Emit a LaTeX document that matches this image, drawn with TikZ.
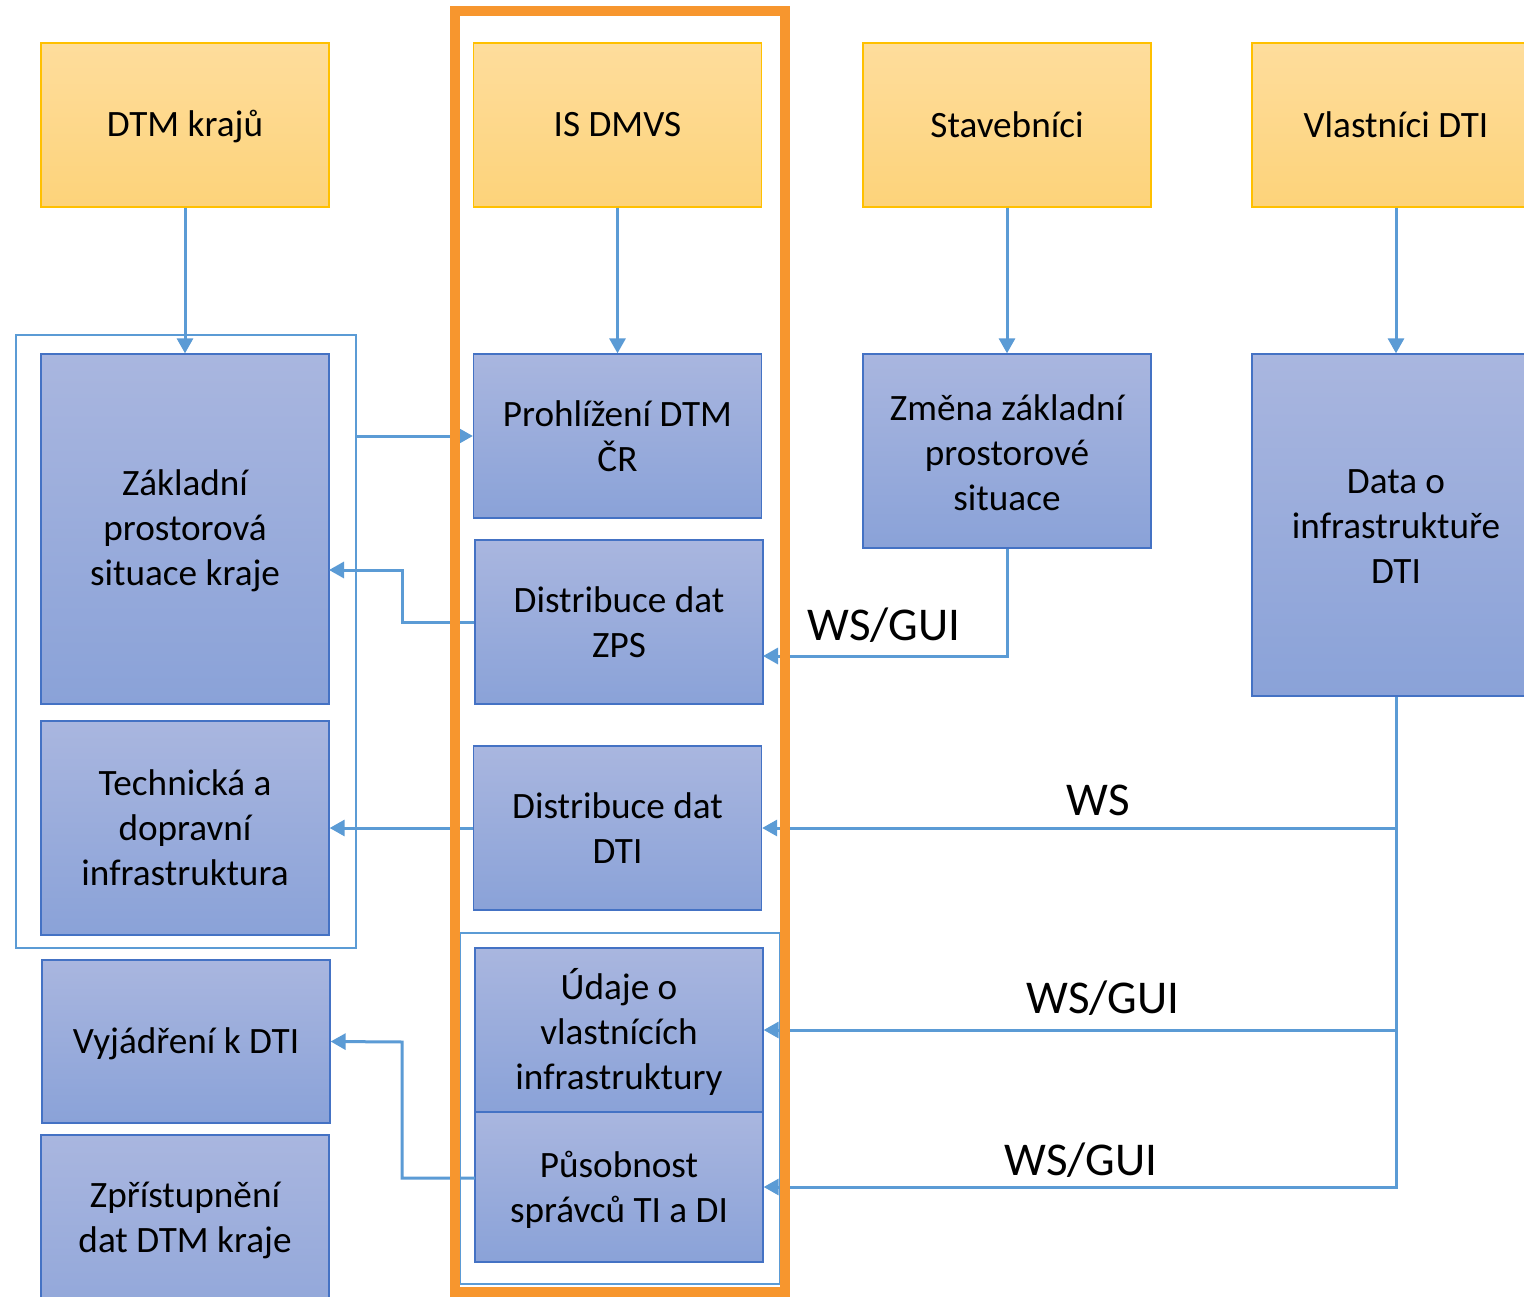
\documentclass[tikz,border=0pt]{standalone}
\usepackage{fontspec}
\setmainfont{Carlito}
\usetikzlibrary{arrows.meta,calc}
\definecolor{yTop}{HTML}{FEDD9C}
\definecolor{yBot}{HTML}{FDD37A}
\definecolor{yLine}{HTML}{FFC000}
\definecolor{bTop}{HTML}{A9B6DF}
\definecolor{bBot}{HTML}{8AA2D8}
\definecolor{bLine}{HTML}{4472C4}
\definecolor{cLine}{HTML}{5B9BD5}
\definecolor{oLine}{HTML}{F7962E}
\tikzset{
  boxtext/.style={font=\fontsize{37.2pt}{45pt}\selectfont, align=center, inner sep=0pt},
  ybox/.style={boxtext, draw=yLine, line width=1.3pt, top color=yTop, bottom color=yBot, minimum width=288pt, minimum height=164pt},
  bbox/.style={boxtext, draw=bLine, line width=1.3pt, top color=bTop, bottom color=bBot, minimum width=288pt},
  conn/.style={draw=cLine, line width=3pt, -{Triangle[length=15pt,width=16pt]}},
  lbl/.style={font=\fontsize{47pt}{52pt}\selectfont, inner sep=0pt}
}
\begin{document}
\begin{tikzpicture}[x=1pt,y=-1pt]
\path[use as bounding box] (0,0) rectangle (1524,1297);
\clip (0,0) rectangle (1524,1297);
\fill[white] (0,0) rectangle (1524,1297);
% frames
\node[draw=cLine, line width=2.7pt, minimum width=340pt, minimum height=613pt, inner sep=0pt] (frame) at (186,641.5) {};
\node[draw=cLine, line width=2.7pt, minimum width=320pt, minimum height=351pt, inner sep=0pt] (frame2) at (620,1108.5) {};
% top row
\node[ybox] (dtm) at (185,125) {\raisebox{0pt}[0.644em][0pt]{DTM krajů}};
\node[ybox] (isd) at (617.5,125) {IS DMVS};
\node[ybox] (stav) at (1007,125) {Stavebníci};
\node[ybox] (vlast) at (1396,125) {Vlastníci DTI};
% left column
\node[bbox, minimum height=350pt] (zakl) at (185,529) {};
\node[boxtext] (zaklT) at (185,531) {Základní\\prostorová\\situace kraje};
\node[bbox, minimum height=214pt] (tech) at (185,828) {Technická a\\dopravní\\infrastruktura};
\node[bbox, minimum height=163pt] (vyj) at (186,1041.5) {\raisebox{0pt}[0.644em][0pt]{Vyjádření k DTI}};
\node[bbox, minimum height=240pt] (zpr) at (185,1255) {};
\node[boxtext] (zprT) at (185,1220) {Zpřístupnění\\dat DTM kraje};
% middle column
\node[bbox, minimum height=164pt] (prohl) at (617.5,436) {Prohlížení DTM\\ČR};
\node[bbox, minimum height=164pt] (dzps) at (619,622) {Distribuce dat\\ZPS};
\node[bbox, minimum height=164pt] (ddti) at (617.5,828) {Distribuce dat\\DTI};
\node[bbox, minimum height=164pt] (udaje) at (619,1030) {};
\node[boxtext] (udajeT) at (619,1032) {Údaje o\\vlastnících\\infrastruktury};
\node[bbox, minimum height=150pt] (pus) at (619,1187) {};
\node[boxtext] (pusT) at (619,1190) {Působnost\\správců TI a DI};
% right columns
\node[bbox, minimum height=194pt] (zmena) at (1007,451) {};
\node[boxtext] (zmenaT) at (1007,453) {Změna základní\\prostorové\\situace};
\node[bbox, minimum height=342pt] (data) at (1396,525) {};
\node[boxtext] (dataT) at (1396,527) {Data o\\infrastruktuře\\DTI};
% helper coordinates
\coordinate (zpsA) at (402,622);
\coordinate (zpsB) at (402,570);
\coordinate (zaklIn) at (329,570);
\coordinate (zmIn) at (763,656);
\coordinate (pusOut) at (475,1178);
\coordinate (pusA) at (402,1178);
\coordinate (pusB) at (402,1042);
% connectors
\draw[conn] (dtm.south) -- (zakl.north);
\draw[conn] (isd.south) -- (prohl.north);
\draw[conn] (stav.south) -- (zmena.north);
\draw[conn] (vlast.south) -- (data.north);
\draw[conn] (frame.east |- prohl.west) -- (prohl.west);
\draw[conn] (dzps.west) -- (zpsA) -- (zpsB) -- (zaklIn);
\draw[conn] (zmena.south) |- (zmIn);
\draw[conn] (data.south) |- (ddti.east);
\draw[conn] (data.south) |- (udaje.east);
\draw[conn] (data.south) |- (pus.east);
\draw[conn] (ddti.west) -- (tech.east);
\draw[conn] (pusOut) -- (pusA) -- (pusB) -- (vyj.east);
% orange frame
\draw[oLine, line width=10pt] (455,11) rectangle (785,1292);
% labels
\node[lbl] (l1) at (884,625) {WS/GUI};
\node[lbl] (l2) at (1098,800) {WS};
\node[lbl] (l3) at (1103,998) {WS/GUI};
\node[lbl] (l4) at (1081,1160) {WS/GUI};
\end{tikzpicture}
\end{document}
